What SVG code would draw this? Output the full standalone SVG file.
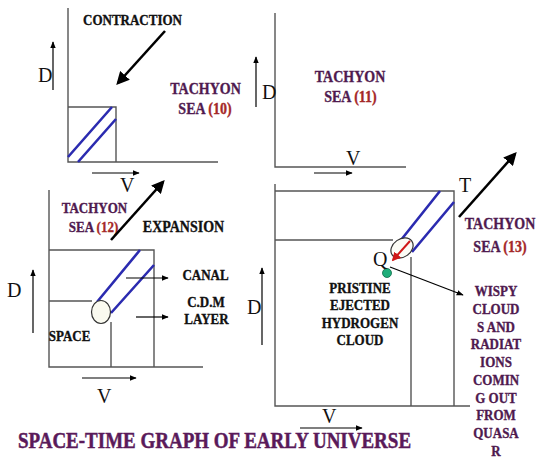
<svg xmlns="http://www.w3.org/2000/svg" width="536" height="465" viewBox="0 0 536 465">
<defs>
<marker id="ah" viewBox="0 0 10 10" refX="9" refY="5" markerWidth="7" markerHeight="7" markerUnits="userSpaceOnUse" orient="auto"><path d="M0,1 L10,5 L0,9 z" fill="#000"/></marker>
<marker id="big" viewBox="0 0 10 10" refX="8" refY="5" markerWidth="13" markerHeight="13" markerUnits="userSpaceOnUse" orient="auto"><path d="M0,0 L10,5 L0,10 z" fill="#000"/></marker>
<marker id="red" viewBox="0 0 10 10" refX="8" refY="5" markerWidth="9" markerHeight="9" markerUnits="userSpaceOnUse" orient="auto"><path d="M0,0 L10,5 L0,10 z" fill="#d01818"/></marker>
<style>
.ax{stroke:#555;stroke-width:1.4;fill:none}
.bl{stroke:#2b2bb0;stroke-width:2.6;fill:none}
.sa{stroke:#000;stroke-width:1.2;fill:none;marker-end:url(#ah)}
.ba{stroke:#000;stroke-width:2.6;fill:none;marker-end:url(#big)}
.lab{font-family:"Liberation Serif","Times New Roman",serif;font-weight:bold;text-anchor:middle;fill:#111;stroke:#111;stroke-width:0.3}
.pur{fill:#4f1a4f;stroke:#4f1a4f}
.num{fill:#a52828;stroke:#a52828}
.ttl{fill:#5a1a5a;stroke:#5a1a5a;stroke-width:0.4}
.dv{font-family:"Liberation Serif","Times New Roman",serif;font-size:20px;fill:#111}
</style>
</defs>
<rect width="536" height="465" fill="#fff"/>

<g id="panel10">
<path class="ax" d="M68,8 V162 H218 M68,107 H116 V162"/>
<path class="bl" d="M68,157 L112,107 M78,162 L116,119"/>
<text class="lab" font-size="13" transform="translate(132.5,25) scale(1,1.15)">CONTRACTION</text>
<text class="lab pur" font-size="14" transform="translate(205.5,94) scale(1,1.15)">TACHYON</text>
<text class="lab pur" font-size="14" transform="translate(205,114) scale(1,1.15)">SEA <tspan class="num">(10)</tspan></text>
<text class="dv" x="38" y="82">D</text>
<text class="dv" x="120" y="192">V</text>
</g>

<g id="panel11">
<path class="ax" d="M275,13 V167 H406"/>
<text class="lab pur" font-size="14" transform="translate(350,82) scale(1,1.15)">TACHYON</text>
<text class="lab pur" font-size="14" transform="translate(350.5,102) scale(1,1.15)">SEA <tspan class="num">(11)</tspan></text>
<text class="dv" x="262" y="99">D</text>
<text class="dv" x="346" y="165">V</text>
</g>

<g id="panel12">
<path class="ax" d="M49,190 V367 H203 M49,250 H154 V367 M49,301 H92 M111,322 V367"/>
<path class="bl" d="M97,302 L140,250 M111,313 L154,265"/>
<ellipse cx="101" cy="312" rx="9.5" ry="11.5" fill="#fafaf0" stroke="#333" stroke-width="1.2"/>
<text class="lab pur" font-size="13" transform="translate(94.5,213) scale(1,1.15)">TACHYON</text>
<text class="lab pur" font-size="13" transform="translate(93.5,232) scale(1,1.15)">SEA <tspan class="num">(12)</tspan></text>
<text class="lab" font-size="14" transform="translate(183.5,232) scale(1,1.15)">EXPANSION</text>
<text class="lab" font-size="13" transform="translate(205.5,280) scale(1,1.15)">CANAL</text>
<text class="lab" font-size="13" transform="translate(206,307) scale(1,1.15)">C.D.M</text>
<text class="lab" font-size="13" transform="translate(206.5,324) scale(1,1.15)">LAYER</text>
<text class="lab" font-size="13" transform="translate(69.5,341) scale(1,1.15)">SPACE</text>
<text class="dv" x="7" y="297">D</text>
<text class="dv" x="97" y="403">V</text>
</g>

<g id="panel13">
<path class="ax" d="M275,184 V406 H470 M275,191 H454 V406 M275,240 H393 M411,257 V406"/>
<path class="bl" d="M397,245 L440,191 M412,252 L454,202"/>
<ellipse cx="402" cy="248" rx="12" ry="9" transform="rotate(-35 402 248)" fill="#fcfcf6" stroke="#333" stroke-width="1.2"/>
<circle cx="387" cy="273" r="4.5" fill="#1fae7a" stroke="#0d6b47" stroke-width="0.8"/>
<text class="dv" x="373" y="266">Q</text>
<text class="dv" x="459" y="192">T</text>
<text class="lab pur" font-size="14" transform="translate(500,229) scale(1,1.15)">TACHYON</text>
<text class="lab pur" font-size="14" transform="translate(500,252) scale(1,1.15)">SEA <tspan class="num">(13)</tspan></text>
<text class="lab" font-size="13" transform="translate(360,293) scale(1,1.15)">PRISTINE</text>
<text class="lab" font-size="13" transform="translate(360,310) scale(1,1.15)">EJECTED</text>
<text class="lab" font-size="13" transform="translate(360,328) scale(1,1.15)">HYDROGEN</text>
<text class="lab" font-size="13" transform="translate(360,345) scale(1,1.15)">CLOUD</text>
<g class="lab pur" font-size="13">
<text transform="translate(496,296) scale(1,1.15)">WISPY</text>
<text transform="translate(496,314) scale(1,1.15)">CLOUD</text>
<text transform="translate(496,332) scale(1,1.15)">S AND</text>
<text transform="translate(496,349) scale(1,1.15)">RADIAT</text>
<text transform="translate(496,367) scale(1,1.15)">IONS</text>
<text transform="translate(496,385) scale(1,1.15)">COMIN</text>
<text transform="translate(496,403) scale(1,1.15)">G OUT</text>
<text transform="translate(496,420) scale(1,1.15)">FROM</text>
<text transform="translate(496,438) scale(1,1.15)">QUASA</text>
<text transform="translate(496,456) scale(1,1.15)">R</text>
</g>
<text class="dv" x="247" y="314">D</text>
<text class="dv" x="322" y="423">V</text>
</g>

<g id="title">
<text class="lab ttl" font-size="19" transform="translate(214.5,448) scale(1,1.2)">SPACE-TIME GRAPH OF EARLY UNIVERSE</text>
</g>

<g id="connectors">
<path class="ba" d="M165,31 L118,83"/>
<path class="ba" d="M111,240 L163,182"/>
<path class="ba" d="M459,217 L515,154"/>
<path class="sa" d="M53,90 V42"/>
<path class="sa" d="M92,173 H139"/>
<path class="sa" d="M256,107 V57"/>
<path class="sa" d="M314,173 H352"/>
<path class="sa" d="M33,333 V270"/>
<path class="sa" d="M82,378 H136"/>
<path class="sa" d="M126,278 H168"/>
<path class="sa" d="M136,317 H168"/>
<path class="sa" d="M262,345 V268"/>
<path class="sa" d="M300,428 H362"/>
<path class="sa" d="M390,267 L463,295"/>
<path d="M410,241 L393,260" stroke="#d01818" stroke-width="2" fill="none" marker-end="url(#red)"/>
</g>
</svg>
